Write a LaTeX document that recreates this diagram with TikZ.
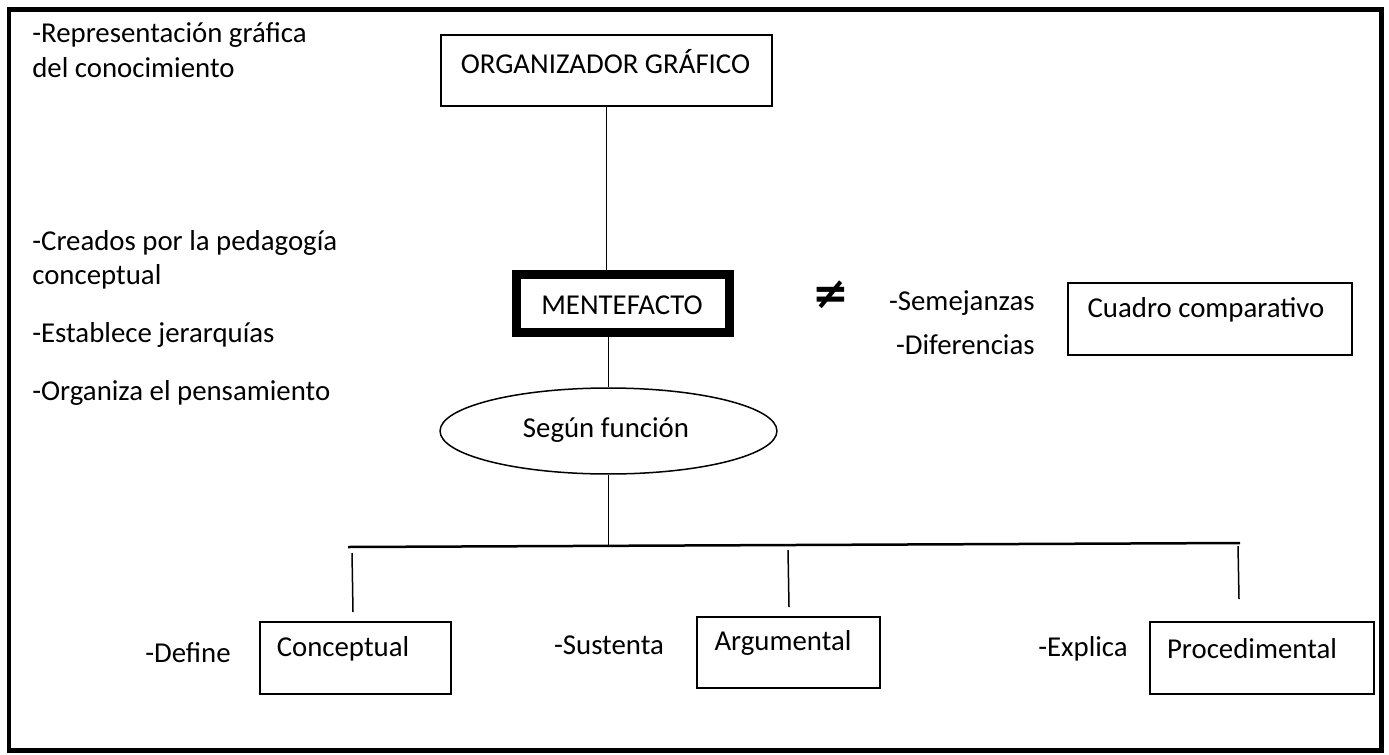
\documentclass[tikz,border=0pt]{standalone}
\usepackage{fontspec}
\setmainfont{Carlito}
\newfontfamily\symfont{DejaVu Sans}
\usetikzlibrary{positioning,shapes.geometric}

\begin{document}
\begin{tikzpicture}[
  x=0.02cm, y=-0.02cm,
  every node/.style={font=\fontsize{16.4}{19.7}\selectfont, inner sep=0pt},
  box/.style={draw, line width=0.04cm},
  thickbox/.style={draw, line width=0.18cm},
  oval/.style={draw, ellipse, line width=0.03cm},
  txt/.style={align=center},
  side/.style={anchor=west},
  conn/.style={line width=0.03cm}
]
\useasboundingbox (0,0) rectangle (1389,754);
\draw[line width=0.1cm] (9,9) rectangle (1381,750);

% left notes
\node[side] (rep1) at (32,35) {-Representación gráfica};
\node[side] (rep2) at (32,68) {del conocimiento};
\node[side] (cre1) at (32,243) {-Creados por la pedagogía};
\node[side] (cre2) at (32,277) {conceptual};
\node[side] (jer) at (32,335) {-Establece jerarquías};
\node[side] (org) at (32,393) {-Organiza el pensamiento};

% main column
\node[box, minimum width=6.62cm, minimum height=1.42cm] (orgbox) at (606.5,70.5) {};
\node[txt] (orgtxt) at (605.5,62) {ORGANIZADOR GRÁFICO};
\node[thickbox, minimum width=4.26cm, minimum height=1.16cm] (mbox) at (623,303.5) {};
\node[txt] (mtxt) at (622,305) {MENTEFACTO};
\node[oval, minimum width=6.74cm, minimum height=1.72cm] (ell) at (608.5,431) {};
\node[txt] (elltxt) at (606,430) {Según función};

% comparison
\node[txt, font=\symfont\bfseries\fontsize{25}{28}\selectfont] (neq) at (831,295) {≠};
\node[anchor=east] (sem) at (1035,303) {-Semejanzas};
\node[anchor=east] (dif) at (1035,345) {-Diferencias};
\node[box, minimum width=5.68cm, minimum height=1.44cm] (cuadro) at (1210,319) {};
\node[txt] (cuadrotxt) at (1206,310) {Cuadro comparativo};

% branches
\node[box, minimum width=3.82cm, minimum height=1.44cm] (concbox) at (355.5,658) {};
\node[txt] (conctxt) at (343,649) {Conceptual};
\node[box, minimum width=3.66cm, minimum height=1.42cm] (argbox) at (788.5,652.5) {};
\node[txt] (argtxt) at (783,643) {Argumental};
\node[box, minimum width=4.48cm, minimum height=1.44cm] (procbox) at (1262,658) {};
\node[txt] (proctxt) at (1252,649) {Procedimental};
\node[txt] (def) at (188,653) {-Define};
\node[txt] (sus) at (609,645) {-Sustenta};
\node[txt] (exp) at (1083,649) {-Explica};

\coordinate (barL) at (348,547);
\coordinate (barR) at (1240,543);
\coordinate (dropA) at (352,553);
\coordinate (dropAe) at (353,612);
\coordinate (dropB) at (788,550);
\coordinate (dropBe) at (789,607);
\coordinate (dropC) at (1238,546);
\coordinate (dropCe) at (1239,599);

\draw[conn] (orgbox.south) -- (orgbox.south |- mbox.north);
\draw[conn] (ell.north |- mbox.south) -- (ell.north);
\draw[conn] (ell.south) -- (ell.south |- barL);
\draw[line width=0.05cm] (barL) -- (barR);
\draw[conn] (dropA) -- (dropAe);
\draw[conn] (dropB) -- (dropBe);
\draw[conn] (dropC) -- (dropCe);
\end{tikzpicture}
\end{document}
